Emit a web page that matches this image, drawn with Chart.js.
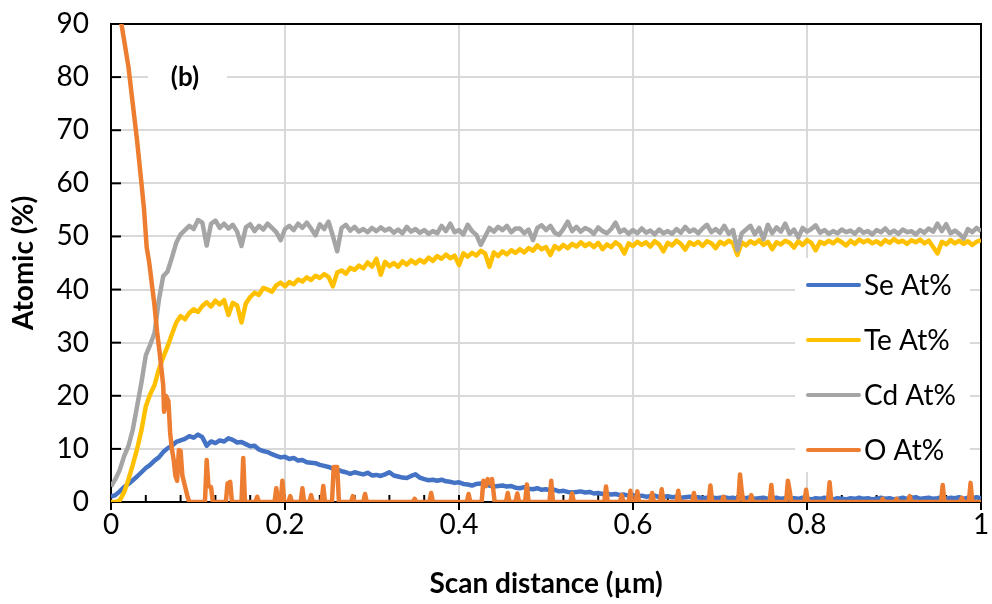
<!DOCTYPE html>
<html>
<head>
<meta charset="utf-8">
<script src="https://cdn.jsdelivr.net/npm/chart.js@4.4.1/dist/chart.umd.min.js"></script>
<style>
  html, body { margin: 0; padding: 0; background: #fff; }
  #wrap { width: 992px; height: 604px; position: relative; }
</style>
</head>
<body>
<div id="wrap"><canvas id="line-scan"></canvas></div>
<script>
// scan positions (µm) shared by Se, Te and Cd
const scanX = [
  0, 0.005, 0.01, 0.015, 0.02, 0.025, 0.03, 0.035, 0.04, 0.045,
  0.05, 0.055, 0.06, 0.065, 0.07, 0.075, 0.08, 0.085, 0.09, 0.095,
  0.1, 0.105, 0.11, 0.115, 0.12, 0.125, 0.13, 0.135, 0.14, 0.145,
  0.15, 0.155, 0.16, 0.165, 0.17, 0.175, 0.18, 0.185, 0.19, 0.195,
  0.2, 0.205, 0.21, 0.215, 0.22, 0.225, 0.23, 0.235, 0.24, 0.245,
  0.25, 0.255, 0.26, 0.265, 0.27, 0.275, 0.28, 0.285, 0.29, 0.295,
  0.3, 0.305, 0.31, 0.315, 0.32, 0.325, 0.33, 0.335, 0.34, 0.345,
  0.35, 0.355, 0.36, 0.365, 0.37, 0.375, 0.38, 0.385, 0.39, 0.395,
  0.4, 0.405, 0.41, 0.415, 0.42, 0.425, 0.43, 0.435, 0.44, 0.445,
  0.45, 0.455, 0.46, 0.465, 0.47, 0.475, 0.48, 0.485, 0.49, 0.495,
  0.5, 0.505, 0.51, 0.515, 0.52, 0.525, 0.53, 0.535, 0.54, 0.545,
  0.55, 0.555, 0.56, 0.565, 0.57, 0.575, 0.58, 0.585, 0.59, 0.595,
  0.6, 0.605, 0.61, 0.615, 0.62, 0.625, 0.63, 0.635, 0.64, 0.645,
  0.65, 0.655, 0.66, 0.665, 0.67, 0.675, 0.68, 0.685, 0.69, 0.695,
  0.7, 0.705, 0.71, 0.715, 0.72, 0.725, 0.73, 0.735, 0.74, 0.745,
  0.75, 0.755, 0.76, 0.765, 0.77, 0.775, 0.78, 0.785, 0.79, 0.795,
  0.8, 0.805, 0.81, 0.815, 0.82, 0.825, 0.83, 0.835, 0.84, 0.845,
  0.85, 0.855, 0.86, 0.865, 0.87, 0.875, 0.88, 0.885, 0.89, 0.895,
  0.9, 0.905, 0.91, 0.915, 0.92, 0.925, 0.93, 0.935, 0.94, 0.945,
  0.95, 0.955, 0.96, 0.965, 0.97, 0.975, 0.98, 0.985, 0.99, 0.995,
  1
];

const seAt = [
  1.0, 1.3, 2.0, 2.8, 3.4, 4.1, 4.8, 5.6, 6.4, 7.0,
  7.8, 8.4, 9.4, 10.1, 10.6, 11.3, 11.6, 11.9, 12.4, 12.1,
  12.7, 12.2, 10.6, 11.4, 11.1, 11.6, 11.4, 12.0, 11.7, 11.2,
  11.3, 10.9, 10.5, 10.6, 9.9, 9.6, 9.4, 9.0, 8.7, 8.4,
  8.5, 8.1, 8.3, 7.8, 7.9, 7.5, 7.4, 7.3, 7.0, 6.8,
  6.6, 6.3, 6.1, 5.8, 5.6, 5.3, 5.6, 5.4, 5.2, 5.5,
  5.0, 5.1, 4.9, 5.2, 5.6, 5.0, 4.8, 4.6, 4.5, 4.9,
  5.2, 4.6, 4.3, 4.1, 4.2, 4.0, 4.2, 3.9, 3.8, 3.6,
  3.7, 3.4, 3.3, 3.1, 3.4, 3.5, 3.3, 3.1, 2.9, 3.0,
  3.1, 2.9, 3.0, 2.7, 2.6, 2.8, 2.5, 2.4, 2.6, 2.3,
  2.4, 2.2, 2.3, 2.0, 2.1, 1.9, 1.8, 1.9, 2.0, 1.8,
  1.9, 1.6, 1.7, 1.5, 1.6, 1.4, 1.5, 1.3, 1.4, 1.2,
  1.3, 1.1, 1.2, 1.0, 1.1, 1.2, 0.9, 1.0, 1.1, 0.9,
  1.0, 0.8, 0.9, 1.0, 0.8, 0.9, 0.7, 0.8, 0.9, 0.7,
  0.8, 0.9, 0.7, 0.8, 0.6, 0.8, 0.7, 0.9, 0.6, 0.7,
  0.8, 0.6, 0.7, 0.8, 0.6, 0.7, 0.5, 0.7, 0.6, 0.8,
  0.6, 0.5, 0.7, 0.6, 0.8, 0.6, 0.5, 0.7, 0.6, 0.5,
  0.7, 0.6, 0.8, 0.6, 0.7, 0.5, 0.6, 0.8, 0.6, 0.7,
  0.5, 0.6, 0.8, 0.6, 0.7, 0.9, 0.6, 0.7, 0.8, 0.6,
  0.7, 0.9, 0.6, 0.8, 0.7, 0.9, 0.6, 0.8, 0.7, 0.9,
  0.7
];

const teAt = [
  0.0, 0.0, 0.3, 1.8, 4.2, 7.0, 10.0, 13.5, 18.0, 20.3,
  22.0, 25.0, 27.2, 29.3, 31.6, 33.8, 35.0, 34.4, 35.6, 36.3,
  35.8, 36.9, 37.6, 36.8, 37.9, 37.2, 38.0, 35.2, 37.5, 37.0,
  33.8, 37.4, 38.6, 39.4, 39.0, 40.3, 40.0, 39.6, 40.8, 41.3,
  40.6, 41.4, 41.0, 41.9, 41.5, 42.3, 41.8, 42.6, 42.2, 42.9,
  42.4, 40.6, 43.2, 43.6, 43.0, 44.1, 43.7, 44.5, 44.0, 45.1,
  44.3, 45.8, 42.8, 45.2, 44.4, 45.0, 44.3, 45.3, 44.7, 45.5,
  44.9, 45.6, 45.1, 46.0, 45.4, 46.3, 45.8, 46.6, 45.9, 46.4,
  44.6, 46.8, 46.2, 46.9, 46.4, 47.3, 46.8, 44.3, 47.0, 46.3,
  47.2, 46.6, 47.4, 46.9, 47.6, 47.0, 47.8, 47.3, 48.3, 47.6,
  48.0, 46.5, 48.2, 47.6, 48.4, 47.8, 48.6, 48.1, 48.9, 48.2,
  48.7, 48.0, 48.8, 47.6, 48.5, 48.0, 48.9, 48.3, 46.8, 48.7,
  48.2, 49.0, 48.4, 48.9, 48.1, 49.1, 48.5, 47.2, 48.8, 48.3,
  49.2, 48.6, 47.5, 48.9, 48.4, 49.0, 48.2, 49.1, 48.7, 47.8,
  49.0, 48.5, 49.2, 48.7, 46.5, 48.9, 48.3, 49.1, 48.6, 49.3,
  48.4, 49.0, 47.6, 48.9, 48.5, 49.2, 48.8, 47.9, 49.1, 48.4,
  49.3, 48.8, 47.4, 49.0, 48.6, 49.2, 48.7, 49.4, 48.9, 48.3,
  49.2, 48.6, 49.4, 48.9, 49.3, 48.7, 49.1, 48.5, 49.3, 48.8,
  49.5, 48.9, 49.2, 48.6, 49.3, 48.9, 49.4, 48.7, 49.2, 48.0,
  46.8, 49.0, 48.5, 49.3, 48.7, 49.2, 48.6, 49.1, 48.4, 49.0,
  49.3
];

const cdAt = [
  2.9, 4.3, 6.0, 8.6, 10.5, 13.6, 18.0, 22.5, 27.6, 29.6,
  31.8, 38.0, 42.5, 43.4, 46.0, 48.8, 50.4, 51.2, 52.0, 51.4,
  53.1, 52.6, 48.3, 52.4, 53.0, 51.6, 52.4, 51.5, 52.2, 50.9,
  48.2, 51.7, 52.3, 51.0, 52.0, 51.3, 52.4, 51.6, 50.8, 49.3,
  51.4, 52.0, 51.2, 52.4, 51.6, 52.6, 51.5, 50.2, 52.3, 51.4,
  52.8, 50.1, 47.2, 51.6, 52.2, 51.1, 51.8, 50.9, 51.4, 50.8,
  51.6, 51.0, 51.7, 51.1, 51.5, 50.7, 51.3, 50.6, 51.8, 50.9,
  51.4, 50.7, 51.2, 50.5, 51.0, 50.6, 52.0, 51.0, 52.4, 50.8,
  51.2, 50.4, 52.2, 51.0, 50.3, 48.4, 50.0, 51.6, 50.9, 51.8,
  51.2, 52.0, 50.8, 51.5, 51.5, 50.6, 51.3, 49.3, 51.6, 52.1,
  51.2, 52.0, 50.7, 50.3, 51.4, 52.8, 51.0, 51.8, 50.9, 51.6,
  51.2, 50.5, 51.7, 51.0, 50.6, 51.4, 52.6, 50.8, 51.3, 50.5,
  51.2, 50.6, 51.5, 50.7, 51.1, 50.4, 51.3, 50.6, 51.0, 50.5,
  51.4, 50.7, 51.8, 50.9, 51.3, 50.6, 51.5, 52.2, 50.8, 51.4,
  50.7, 52.0, 50.5, 51.2, 47.4, 50.6, 51.3, 52.0, 50.4, 51.6,
  49.5, 52.2, 50.6, 51.7, 50.9, 52.4, 50.5, 51.3, 49.8, 51.6,
  50.9, 51.4, 52.1, 50.7, 51.2, 50.5, 51.0, 50.6, 51.3, 50.8,
  51.1, 50.5, 51.4, 50.7, 51.0, 50.4, 51.2, 50.8, 51.5, 50.6,
  51.1, 50.5, 51.3, 50.8, 51.0, 50.4, 51.2, 50.7, 51.5, 50.9,
  52.4, 51.0, 52.3, 50.6, 51.1, 50.5, 49.6, 51.4, 50.8, 51.6,
  51.0
];

// O is sampled on its own points: steep surface decay, then isolated spikes
const oAt = [
  [0.01, 92], [0.015, 87], [0.02, 82], [0.025, 75], [0.03, 68], [0.035, 60],
  [0.038, 55], [0.041, 48], [0.044, 45], [0.047, 41], [0.05, 37], [0.053, 32],
  [0.056, 28], [0.058, 25], [0.06, 22], [0.061, 17], [0.063, 20], [0.066, 19],
  [0.068, 13], [0.07, 10], [0.072, 8], [0.074, 5], [0.076, 4], [0.078, 9.8],
  [0.08, 9.6], [0.082, 5], [0.085, 3], [0.088, 1], [0.09, 0],
  [0.108, 0], [0.11, 7.9], [0.112, 3.0], [0.115, 2.8], [0.117, 0],
  [0.132, 0], [0.134, 3.5], [0.137, 3.8], [0.139, 0],
  [0.15, 0], [0.152, 8.3], [0.154, 0],
  [0.166, 0], [0.168, 1.0], [0.17, 0],
  [0.188, 0], [0.19, 2.6], [0.192, 0],
  [0.195, 0], [0.197, 4.0], [0.199, 0],
  [0.204, 0], [0.206, 1.1], [0.208, 0],
  [0.218, 0], [0.22, 2.6], [0.222, 0],
  [0.228, 0], [0.23, 1.3], [0.232, 0],
  [0.242, 0], [0.244, 3.0], [0.246, 0],
  [0.254, 0], [0.256, 6.6], [0.26, 6.6], [0.262, 0],
  [0.276, 0], [0.278, 1.1], [0.28, 0],
  [0.29, 0], [0.292, 1.5], [0.294, 0],
  [0.347, 0], [0.349, 0.6], [0.351, 0],
  [0.366, 0], [0.368, 1.7], [0.37, 0],
  [0.409, 0], [0.411, 1.5], [0.413, 0],
  [0.426, 0], [0.428, 4.0], [0.431, 3.0], [0.433, 4.3], [0.436, 3.5], [0.438, 4.3], [0.441, 0],
  [0.454, 0], [0.456, 1.7], [0.458, 0],
  [0.465, 0], [0.467, 1.6], [0.469, 0],
  [0.476, 0], [0.478, 3.3], [0.48, 0],
  [0.504, 0], [0.506, 4.0], [0.508, 0],
  [0.528, 0], [0.53, 1.6], [0.532, 0],
  [0.567, 0], [0.569, 2.9], [0.571, 0],
  [0.585, 0], [0.587, 1.3], [0.589, 0],
  [0.595, 0], [0.597, 2.1], [0.599, 0],
  [0.603, 0], [0.605, 2.0], [0.607, 0],
  [0.62, 0], [0.622, 1.7], [0.624, 0],
  [0.631, 0], [0.633, 2.4], [0.635, 0],
  [0.65, 0], [0.652, 2.1], [0.654, 0],
  [0.668, 0], [0.67, 1.7], [0.672, 0],
  [0.687, 0], [0.689, 3.1], [0.691, 0],
  [0.702, 0], [0.704, 1.0], [0.706, 0],
  [0.721, 0], [0.723, 5.2], [0.725, 2.0], [0.727, 0],
  [0.734, 0], [0.736, 1.3], [0.738, 0],
  [0.757, 0], [0.759, 3.2], [0.761, 0],
  [0.776, 0], [0.778, 4.0], [0.78, 2.2], [0.782, 0],
  [0.797, 0], [0.799, 2.3], [0.801, 0],
  [0.824, 0], [0.826, 3.7], [0.828, 0],
  [0.885, 0], [0.887, 0.6], [0.889, 0],
  [0.901, 0], [0.903, 0.6], [0.905, 0],
  [0.916, 0], [0.918, 1.1], [0.92, 0],
  [0.954, 0], [0.956, 3.2], [0.958, 0],
  [0.976, 0], [0.978, 0.8], [0.98, 0],
  [0.986, 0], [0.988, 3.6], [0.99, 0],
  [1, 0]
];

const seriesLabels = ["Se At%", "Te At%", "Cd At%", "O At%"];
const seriesColors = ["#4472C4", "#FFC000", "#A5A5A5", "#ED7D31"];

Chart.defaults.font.family = "Lato";
Chart.defaults.color = "#000";

function toPoints(values) {
  return scanX.map((x, i) => ({ x: x, y: values[i] }));
}

function drawLine(ctx, x1, y1, x2, y2) {
  ctx.beginPath();
  ctx.moveTo(x1, y1);
  ctx.lineTo(x2, y2);
  ctx.stroke();
}

// keep the plot box where Excel had it, labels may hang over the edges
function noEdgePadding(scale) {
  scale.paddingLeft = 0;
  scale.paddingRight = 0;
  scale.paddingTop = 0;
  scale.paddingBottom = 0;
}

// frame, Excel style tick marks, "(b)" tag and the inset legend
const excelDecor = {
  id: "excelDecor",
  beforeDatasetsDraw(chart) {
    const { ctx, chartArea: area, scales } = chart;
    const xs = scales.x;
    const ys = scales.y;
    ctx.save();
    ctx.strokeStyle = "#000";
    ctx.lineWidth = 2;
    // minor ticks inside, every 0.04
    for (let k = 0; k <= 25; k++) {
      const px = xs.getPixelForValue(k * 0.04);
      drawLine(ctx, px, area.bottom, px, area.bottom - 7);
    }
    // major ticks cross the axis
    xs.ticks.forEach((t) => {
      const px = xs.getPixelForValue(t.value);
      drawLine(ctx, px, area.bottom - 7, px, area.bottom + 8);
    });
    ys.ticks.forEach((t) => {
      const py = ys.getPixelForValue(t.value);
      drawLine(ctx, area.left, py, area.left + 10, py);
    });
    ctx.strokeRect(area.left, area.top, area.right - area.left, area.bottom - area.top);

    // panel tag
    ctx.fillStyle = "#fff";
    ctx.fillRect(148, 62, 79, 30);
    ctx.fillStyle = "#000";
    ctx.font = "bold 26px Lato";
    ctx.textAlign = "center";
    ctx.textBaseline = "middle";
    ctx.fillText("(b)", 185, 78);

    // legend
    ctx.fillStyle = "#fff";
    ctx.fillRect(795, 258, 175, 214);
    ctx.textAlign = "left";
    ctx.font = "28px Lato";
    chart.data.datasets.forEach((ds, i) => {
      const yy = 285 + i * 55;
      ctx.strokeStyle = ds.borderColor;
      ctx.lineWidth = 4;
      ctx.lineCap = "round";
      drawLine(ctx, 808, yy, 859, yy);
      ctx.fillStyle = "#000";
      ctx.fillText(ds.label, 864, yy + 1);
    });
    ctx.restore();
  },
};

const lineStyle = {
  borderWidth: 4.5,
  pointRadius: 0,
  tension: 0,
  borderJoinStyle: "round",
};

new Chart(document.getElementById("line-scan"), {
  type: "line",
  data: {
    datasets: [
      { ...lineStyle, label: seriesLabels[0], data: toPoints(seAt), borderColor: seriesColors[0], order: 4 },
      { ...lineStyle, label: seriesLabels[1], data: toPoints(teAt), borderColor: seriesColors[1], order: 3 },
      { ...lineStyle, label: seriesLabels[2], data: toPoints(cdAt), borderColor: seriesColors[2], order: 2 },
      {
        ...lineStyle,
        label: seriesLabels[3],
        data: oAt.map((p) => ({ x: p[0], y: p[1] })),
        borderColor: seriesColors[3],
        order: 1,
      },
    ],
  },
  options: {
    responsive: true,
    maintainAspectRatio: false,
    animation: false,
    devicePixelRatio: 1,
    layout: { padding: { left: 0, right: 11, top: 24, bottom: 0 } },
    plugins: {
      legend: { display: false },
      tooltip: { enabled: false },
    },
    scales: {
      x: {
        type: "linear",
        min: 0,
        max: 1,
        ticks: {
          stepSize: 0.2,
          font: { size: 28 },
          padding: 6,
          callback: (v) => String(Number(v.toFixed(1))),
        },
        grid: { color: "#D9D9D9", lineWidth: 2, drawTicks: false },
        border: { display: false },
        title: {
          display: true,
          text: "Scan distance (µm)",
          font: { size: 28, weight: "bold" },
          padding: { top: 0, bottom: 3 },
        },
        afterFit(scale) {
          scale.height = 102;
          noEdgePadding(scale);
        },
      },
      y: {
        min: 0,
        max: 90,
        ticks: { stepSize: 10, font: { size: 28 }, padding: 22 },
        grid: { color: "#D9D9D9", lineWidth: 2, drawTicks: false },
        border: { display: false },
        title: {
          display: true,
          text: "Atomic (%)",
          font: { size: 28, weight: "bold" },
          padding: { top: 7, bottom: 0 },
        },
        afterFit(scale) {
          scale.width = 111;
          noEdgePadding(scale);
        },
      },
    },
  },
  plugins: [excelDecor],
});
</script>
</body>
</html>
